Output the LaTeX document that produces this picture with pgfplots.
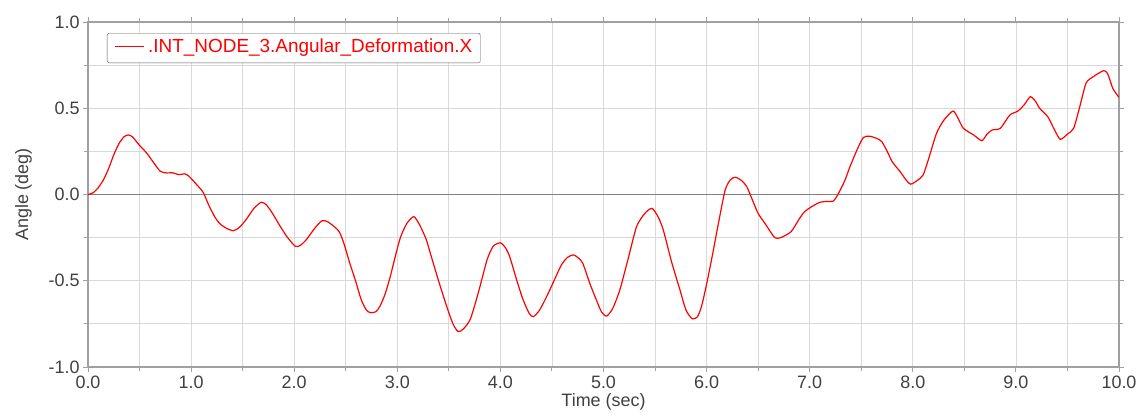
\documentclass[border=0pt]{standalone}
\usepackage{fontspec}
\setmainfont{Liberation Sans}
\usepackage{pgfplots}
\pgfplotsset{compat=1.18}
\definecolor{txt}{HTML}{404040}
\definecolor{gridc}{HTML}{D9D9D9}
\definecolor{framec}{HTML}{A0A0A0}
\begin{document}
\begin{tikzpicture}
\begin{axis}[
  scale only axis,
  width=1031bp, height=345bp,
  xmin=0, xmax=10, ymin=-1, ymax=1,
  xtick={0,1,...,10}, minor xtick={0.5,1.5,...,9.5},
  ytick={-1,-0.5,0,0.5,1}, minor ytick={-0.75,-0.25,0.25,0.75},
  xticklabel style={/pgf/number format/.cd,fixed,fixed zerofill,precision=1},
  yticklabel style={/pgf/number format/.cd,fixed,fixed zerofill,precision=1},
  /pgf/number format/assume math mode=true,
  grid=both,
  major grid style={gridc, line width=0.8pt},
  minor grid style={gridc, line width=0.8pt},
  axis line style={framec, line width=1.2pt},
  tick style={framec, line width=1pt},
  tick align=outside,
  major tick length=5bp, minor tick length=4bp,
  tick label style={font=\fontsize{18}{20}\selectfont, text=txt},
  xlabel={Time (sec)}, ylabel={Angle (deg)},
  label style={font=\fontsize{18}{20}\selectfont, text=txt},
  xlabel style={yshift=2bp},
  ylabel style={yshift=10bp},
  clip=true,
]
\addplot[gray, line width=1pt, forget plot] coordinates {(0,0) (10,0)};
\addplot[red, line width=1.2pt, smooth, tension=0.4] coordinates {
(0.00,0.000) (0.05,0.010) (0.10,0.040) (0.15,0.085) (0.20,0.150) (0.25,0.230)
(0.30,0.295) (0.35,0.335) (0.39,0.345) (0.43,0.335) (0.50,0.285) (0.57,0.240)
(0.63,0.190) (0.70,0.135) (0.76,0.125) (0.82,0.126) (0.88,0.115) (0.94,0.120)
(0.98,0.105) (1.02,0.080) (1.08,0.040) (1.12,0.010) (1.17,-0.060) (1.23,-0.130)
(1.28,-0.170) (1.34,-0.195) (1.41,-0.210) (1.47,-0.190) (1.54,-0.140) (1.61,-0.080)
(1.68,-0.045) (1.73,-0.060) (1.79,-0.110) (1.86,-0.180) (1.93,-0.245) (2.01,-0.300)
(2.06,-0.295) (2.12,-0.260) (2.20,-0.195) (2.27,-0.152) (2.33,-0.160) (2.43,-0.210)
(2.48,-0.280) (2.54,-0.400) (2.60,-0.510) (2.65,-0.610) (2.70,-0.670) (2.74,-0.685)
(2.79,-0.680) (2.83,-0.650) (2.88,-0.580) (2.93,-0.480) (2.98,-0.360) (3.03,-0.250)
(3.09,-0.170) (3.16,-0.128) (3.22,-0.180) (3.28,-0.260) (3.32,-0.340) (3.40,-0.500)
(3.48,-0.650) (3.54,-0.750) (3.59,-0.795) (3.64,-0.780) (3.71,-0.720) (3.79,-0.560)
(3.87,-0.380) (3.93,-0.300) (4.00,-0.280) (4.05,-0.310) (4.09,-0.360) (4.16,-0.500)
(4.22,-0.610) (4.28,-0.690) (4.32,-0.708) (4.38,-0.670) (4.45,-0.590) (4.52,-0.500)
(4.59,-0.410) (4.65,-0.365) (4.71,-0.350) (4.76,-0.370) (4.80,-0.400) (4.87,-0.520)
(4.93,-0.610) (4.98,-0.680) (5.03,-0.705) (5.09,-0.660) (5.16,-0.550) (5.24,-0.370)
(5.32,-0.187) (5.40,-0.110) (5.47,-0.080) (5.53,-0.130) (5.58,-0.206) (5.66,-0.390)
(5.74,-0.550) (5.80,-0.670) (5.86,-0.720) (5.91,-0.710) (5.95,-0.650) (6.00,-0.520)
(6.06,-0.340) (6.12,-0.150) (6.18,0.026) (6.23,0.085) (6.28,0.100) (6.34,0.080)
(6.39,0.045) (6.45,-0.040) (6.50,-0.110) (6.58,-0.180) (6.66,-0.250) (6.72,-0.250)
(6.82,-0.215) (6.90,-0.140) (6.95,-0.100) (7.02,-0.070) (7.10,-0.045) (7.17,-0.040)
(7.23,-0.038) (7.28,0.007) (7.34,0.080) (7.39,0.160) (7.46,0.260) (7.52,0.330)
(7.58,0.338) (7.65,0.325) (7.70,0.306) (7.76,0.240) (7.80,0.190) (7.88,0.130)
(7.94,0.080) (7.98,0.060) (8.04,0.080) (8.10,0.113) (8.16,0.220) (8.23,0.355)
(8.30,0.430) (8.39,0.484) (8.44,0.440) (8.49,0.384) (8.59,0.345) (8.67,0.312)
(8.72,0.350) (8.77,0.374) (8.85,0.384) (8.94,0.460) (9.02,0.484) (9.08,0.520)
(9.14,0.567) (9.19,0.540) (9.23,0.500) (9.31,0.450) (9.37,0.380) (9.43,0.320)
(9.50,0.350) (9.56,0.384) (9.62,0.510) (9.68,0.645) (9.75,0.683) (9.85,0.718)
(9.89,0.700) (9.94,0.615) (10.00,0.563)
};
\node[draw=gray!70!black, rounded corners=1.5pt, fill=white, anchor=north west,
  inner xsep=8bp, inner ysep=6bp, text=red, font=\fontsize{19}{21}\selectfont]
  at (rel axis cs:0.0184,0.968)
  {\textcolor{red}{\rule[0.33em]{29bp}{1.1pt}}\hspace{4bp}.INT\_NODE\_3.Angular\_Deformation.X};
\end{axis}
\pgfresetboundingbox
\path[use as bounding box] ([xshift=-88bp,yshift=-52bp]current axis.south west) rectangle ([xshift=21bp,yshift=22bp]current axis.north east);
\end{tikzpicture}
\end{document}
